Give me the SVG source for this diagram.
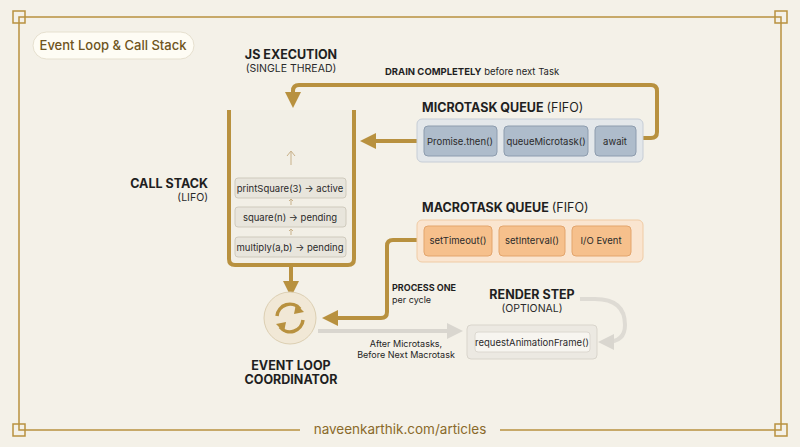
<svg xmlns="http://www.w3.org/2000/svg" width="800" height="447" viewBox="0 0 800 447">
<style>
text{font-family:"Inter","Liberation Sans",sans-serif}
.h{font-size:12.5px;font-weight:700;fill:#1f1f1f}
.s{font-size:10.5px;fill:#2a2a2a}
.i{font-size:9.5px;fill:#2a2a2a}
.gold{fill:none;stroke:#b8913f;stroke-width:4}
.fr{fill:none;stroke:#b8913f;stroke-width:1.5}
.stk{fill:#e8e5dc;stroke:#cfcabd;stroke-width:1}
.mi{fill:#aebccb;stroke:#8d9cae;stroke-width:1}
.ma{fill:#f6c08c;stroke:#e3a56d;stroke-width:1}
</style>
<defs>
<marker id="ag" viewBox="0 0 10 10" refX="5" refY="5" markerWidth="4" markerHeight="4" orient="auto"><path d="M0,0L10,5L0,10z" fill="#b8913f"/></marker>
<marker id="ay" viewBox="0 0 10 10" refX="5" refY="5" markerWidth="4" markerHeight="4" orient="auto"><path d="M0,0L10,5L0,10z" fill="#d9d6cf"/></marker>
</defs>
<rect width="800" height="447" fill="#f4f1e8"/>
<g id="frame">
<path class="fr" d="M19,17H781V430H19Z"/>
<rect class="fr" x="13" y="11" width="12" height="12"/>
<rect class="fr" x="775" y="11" width="12" height="12"/>
<rect class="fr" x="13" y="424" width="12" height="12"/>
<rect class="fr" x="775" y="424" width="12" height="12"/>
<rect x="300" y="422" width="200" height="16" fill="#f4f1e8"/>
<text x="400" y="434" text-anchor="middle" font-size="13.5" fill="#8a6a2a">naveenkarthik.com/articles</text>
</g>
<g id="title">
<rect x="33" y="32" width="161" height="27" rx="13.5" fill="#fefcf4" stroke="#e6e0cf"/>
<text x="113" y="50" text-anchor="middle" font-size="13" font-weight="500" fill="#6e5420">Event Loop &amp; Call Stack</text>
</g>
<g id="connectors">
<path class="gold" d="M643,138H651Q657,138 657,132V91Q657,85 651,85H299Q293,85 293,91V100" marker-end="url(#ag)"/>
<path class="gold" d="M417,141H368" marker-end="url(#ag)"/>
<path class="gold" d="M417,240H393Q387,240 387,246V312Q387,318 381,318H330" marker-end="url(#ag)"/>
<path class="gold" d="M291,266V289" marker-end="url(#ag)"/>
<path d="M318,331H455" fill="none" stroke="#d9d6cf" stroke-width="4" marker-end="url(#ay)"/>
<path d="M580,299H595Q625,299 625,325Q625,342 606,342" fill="none" stroke="#dedbd4" stroke-width="4" marker-end="url(#ay)"/>
<text x="385" y="75" font-size="9.5" fill="#1f1f1f"><tspan font-weight="700">DRAIN COMPLETELY</tspan> before next Task</text>
<text x="392" y="291" font-size="9" font-weight="700" fill="#1f1f1f">PROCESS ONE</text>
<text x="392" y="303" font-size="9" fill="#1f1f1f">per cycle</text>
<text x="406" y="347" text-anchor="middle" font-size="9" fill="#1f1f1f">After Microtasks,</text>
<text x="406" y="358" text-anchor="middle" font-size="9" fill="#1f1f1f">Before Next Macrotask</text>
</g>
<g id="js-execution">
<text class="h" x="291" y="59" text-anchor="middle">JS EXECUTION</text>
<text class="s" x="291" y="72" text-anchor="middle">(SINGLE THREAD)</text>
</g>
<g id="call-stack">
<path d="M229,110V259Q229,265 235,265H348Q354,265 354,259V110" fill="#f2efe6" stroke="none"/>
<path class="gold" d="M229,110V259Q229,265 235,265H348Q354,265 354,259V110"/>
<text class="h" x="208" y="188" text-anchor="end">CALL STACK</text>
<text class="s" x="208" y="201" text-anchor="end">(LIFO)</text>
<path d="M291,165V152M287,156L291,151L295,156" fill="none" stroke="#c8b18a" stroke-width="1"/>
<rect class="stk" x="235" y="178" width="111" height="20" rx="3"/>
<text class="i" x="290" y="192" text-anchor="middle">printSquare(3) → active</text>
<path d="M291,205V199M289,201L291,199L293,201" fill="none" stroke="#c8b18a" stroke-width="1"/>
<rect class="stk" x="235" y="207" width="111" height="20" rx="3"/>
<text class="i" x="290" y="221" text-anchor="middle">square(n) → pending</text>
<path d="M291,235V229M289,231L291,229L293,231" fill="none" stroke="#c8b18a" stroke-width="1"/>
<rect class="stk" x="235" y="237" width="111" height="20" rx="3"/>
<text class="i" x="290" y="251" text-anchor="middle">multiply(a,b) → pending</text>
</g>
<g id="microtask-queue">
<text class="h" x="422" y="112">MICROTASK QUEUE <tspan font-weight="400">(FIFO)</tspan></text>
<rect x="417" y="119" width="226" height="43" rx="5" fill="#e3e7ea" stroke="#c6cdd6"/>
<rect class="mi" x="424" y="126" width="73" height="30" rx="4"/>
<text class="i" x="460" y="145" text-anchor="middle">Promise.then()</text>
<rect class="mi" x="504" y="126" width="84" height="30" rx="4"/>
<text class="i" x="546" y="145" text-anchor="middle">queueMicrotask()</text>
<rect class="mi" x="595" y="126" width="41" height="30" rx="4"/>
<text class="i" x="615" y="145" text-anchor="middle">await</text>
</g>
<g id="macrotask-queue">
<text class="h" x="422" y="212">MACROTASK QUEUE <tspan font-weight="400">(FIFO)</tspan></text>
<rect x="417" y="220" width="226" height="42" rx="5" fill="#fae5d0" stroke="#f0cba4"/>
<rect class="ma" x="424" y="226" width="68" height="30" rx="4"/>
<text class="i" x="458" y="244" text-anchor="middle">setTimeout()</text>
<rect class="ma" x="499" y="226" width="66" height="30" rx="4"/>
<text class="i" x="532" y="244" text-anchor="middle">setInterval()</text>
<rect class="ma" x="572" y="226" width="59" height="30" rx="4"/>
<text class="i" x="601" y="244" text-anchor="middle">I/O Event</text>
</g>
<g id="event-loop">
<circle cx="290" cy="318" r="26" fill="#f1e8d6" stroke="#dccfb2" stroke-width="1"/>
<path d="M277,316A13,13 0 0 1 300,309" fill="none" stroke="#b8913f" stroke-width="3.5"/>
<path d="M296,304L304,312L294,314z" fill="#b8913f"/>
<path d="M303,320A13,13 0 0 1 280,327" fill="none" stroke="#b8913f" stroke-width="3.5"/>
<path d="M284,332L276,324L286,322z" fill="#b8913f"/>
<text class="h" x="291" y="370" text-anchor="middle">EVENT LOOP</text>
<text class="h" x="291" y="384" text-anchor="middle">COORDINATOR</text>
</g>
<g id="render-step">
<text class="h" x="532" y="299" text-anchor="middle">RENDER STEP</text>
<text class="s" x="532" y="312" text-anchor="middle">(OPTIONAL)</text>
<rect x="467" y="325" width="130" height="34" rx="4" fill="#ece9e2" stroke="#d9d5cc"/>
<rect x="475" y="332" width="115" height="20" rx="3" fill="#f7f5f0" stroke="#dcd8d0"/>
<text class="i" x="532" y="346" text-anchor="middle">requestAnimationFrame()</text>
</g>
</svg>
